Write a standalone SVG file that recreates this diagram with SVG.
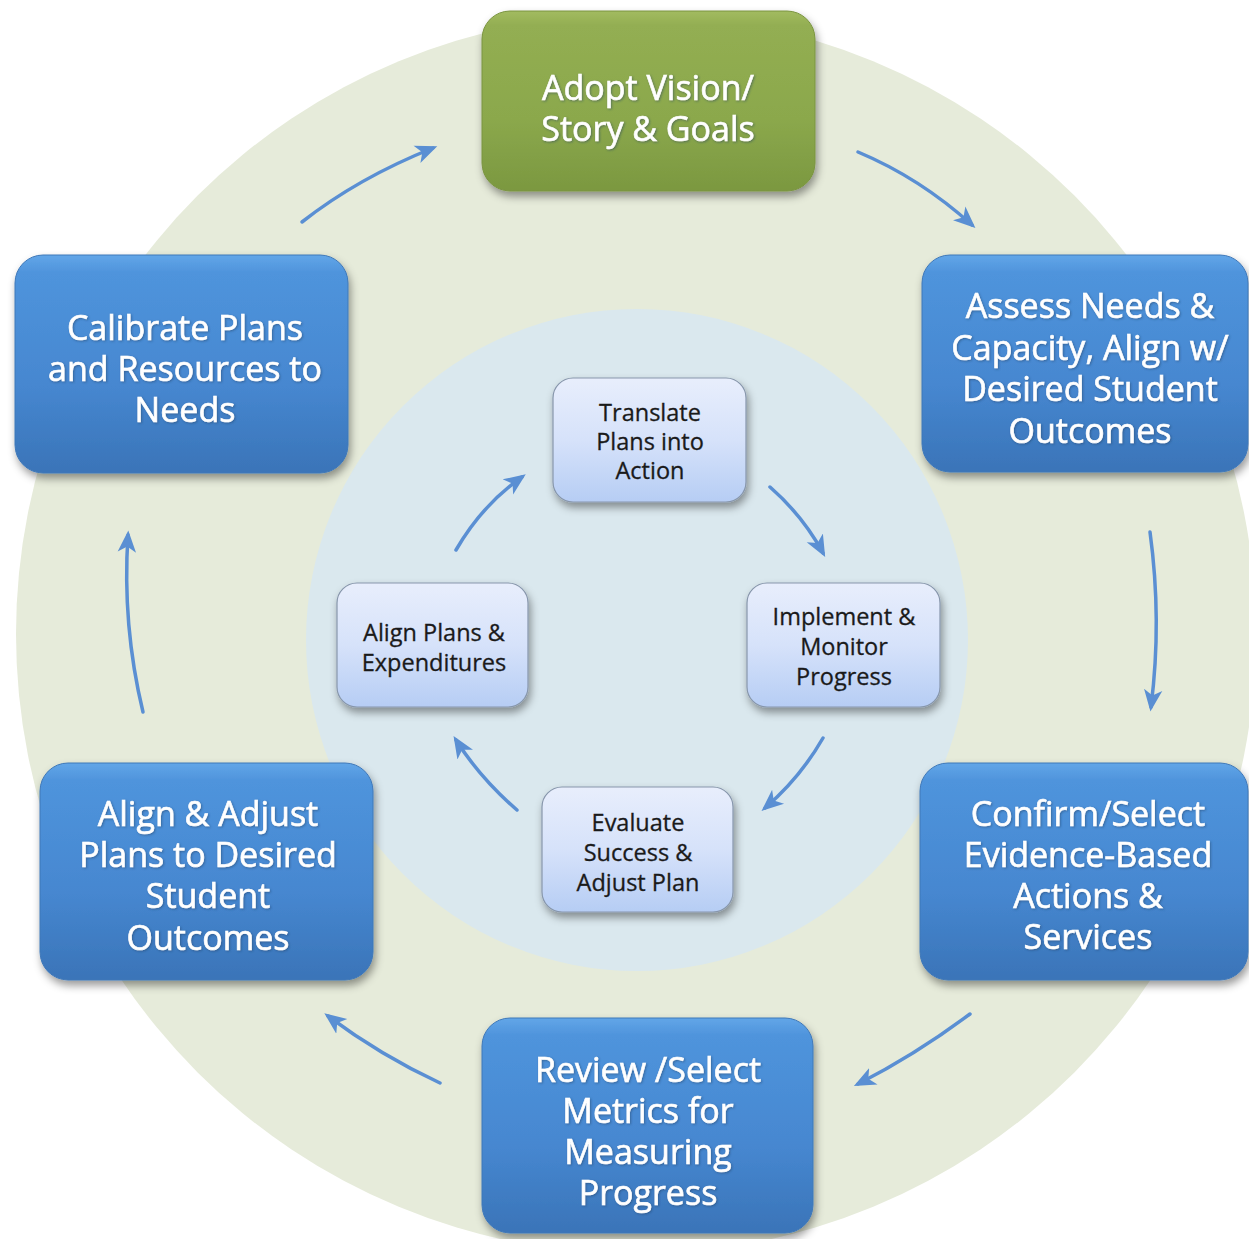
<svg xmlns="http://www.w3.org/2000/svg" width="1249" height="1239" viewBox="0 0 1249 1239">
  <defs>
    <linearGradient id="gBlue" x1="0" y1="0" x2="0" y2="1">
      <stop offset="0" stop-color="#62a6e8"/>
      <stop offset="0.08" stop-color="#4f94dc"/>
      <stop offset="0.6" stop-color="#4687d0"/>
      <stop offset="1" stop-color="#3a74b8"/>
    </linearGradient>
    <linearGradient id="gGreen" x1="0" y1="0" x2="0" y2="1">
      <stop offset="0" stop-color="#a2bb60"/>
      <stop offset="0.08" stop-color="#93ae52"/>
      <stop offset="0.6" stop-color="#8ba84c"/>
      <stop offset="1" stop-color="#7b9840"/>
    </linearGradient>
    <linearGradient id="gInner" x1="0" y1="0" x2="0" y2="1">
      <stop offset="0" stop-color="#e8eefc"/>
      <stop offset="0.5" stop-color="#d6e2fa"/>
      <stop offset="1" stop-color="#b6cdf4"/>
    </linearGradient>
    <filter id="shadow" x="-20%" y="-20%" width="140%" height="150%">
      <feDropShadow dx="2" dy="5" stdDeviation="4" flood-color="#000" flood-opacity="0.4"/>
    </filter>
    <filter id="tshadow" x="-10%" y="-20%" width="120%" height="150%">
      <feDropShadow dx="1" dy="1" stdDeviation="0.8" flood-color="#1a3a60" flood-opacity="0.5"/>
    </filter>
    <marker id="ah" viewBox="0 0 20 18" refX="15" refY="9" markerWidth="23" markerHeight="21" markerUnits="userSpaceOnUse" orient="auto">
      <path d="M0,1 L19,9 L0,17 L5,9 z" fill="#5a8fd3"/>
    </marker>
    <style>
      .outer { fill: url(#gBlue); stroke: #3f78b8; stroke-width: 1; filter: url(#shadow); }
      .green { fill: url(#gGreen); stroke: #7a9440; stroke-width: 1; filter: url(#shadow); }
      .inner { fill: url(#gInner); stroke: #8796ab; stroke-width: 1.2; filter: url(#shadow); }
      .ot { font-family: "Open Sans", "Liberation Sans", sans-serif; font-size: 34px; fill: #ffffff; stroke: #ffffff; stroke-width: 0.6; text-anchor: middle; filter: url(#tshadow); }
      .it { font-family: "Open Sans", "Liberation Sans", sans-serif; font-size: 23.5px; fill: #1a1a1a; stroke: #1a1a1a; stroke-width: 0.3; text-anchor: middle; }
      .conn path { fill: none; stroke: #5a8fd3; stroke-width: 3.5; stroke-linecap: round; marker-end: url(#ah); }
    </style>
  </defs>

  <rect width="1249" height="1239" fill="#ffffff"/>
  <circle cx="636" cy="634" r="620" fill="#e6ebda"/>
  <circle cx="637" cy="640" r="331" fill="#dae8ee"/>

  <g id="connectors" class="conn">
    <path d="M302,222 Q358,178 433,148"/>
    <path d="M858,152 Q920,178 972,225"/>
    <path d="M1150,532 Q1162,620 1151,707"/>
    <path d="M970,1014 Q915,1055 858,1084"/>
    <path d="M440,1083 Q380,1055 328,1016"/>
    <path d="M143,712 Q122,625 128,535"/>
    <path d="M456,550 Q482,505 522,477"/>
    <path d="M770,487 Q803,516 823,553"/>
    <path d="M823,738 Q800,778 765,808"/>
    <path d="M517,810 Q480,778 456,740"/>
  </g>

  <g id="node-adopt">
    <rect class="green" x="482" y="11" width="333" height="180" rx="28"/>
    <text class="ot"><tspan x="648" y="100">Adopt Vision/</tspan><tspan x="648" y="141">Story &amp; Goals</tspan></text>
  </g>

  <g id="node-assess">
    <rect class="outer" x="922" y="255" width="326" height="217" rx="28"/>
    <text class="ot"><tspan x="1090" y="318">Assess Needs &amp;</tspan><tspan x="1090" y="360">Capacity, Align w/</tspan><tspan x="1090" y="401">Desired Student</tspan><tspan x="1090" y="443">Outcomes</tspan></text>
  </g>

  <g id="node-confirm">
    <rect class="outer" x="920" y="763" width="328" height="217" rx="28"/>
    <text class="ot"><tspan x="1088" y="826">Confirm/Select</tspan><tspan x="1088" y="867">Evidence-Based</tspan><tspan x="1088" y="908">Actions  &amp;</tspan><tspan x="1088" y="949">Services</tspan></text>
  </g>

  <g id="node-review">
    <rect class="outer" x="482" y="1018" width="331" height="215" rx="28"/>
    <text class="ot"><tspan x="648" y="1082">Review /Select</tspan><tspan x="648" y="1123">Metrics for</tspan><tspan x="648" y="1164">Measuring</tspan><tspan x="648" y="1205">Progress</tspan></text>
  </g>

  <g id="node-align-adjust">
    <rect class="outer" x="40" y="763" width="333" height="217" rx="28"/>
    <text class="ot"><tspan x="208" y="826">Align &amp; Adjust</tspan><tspan x="208" y="867">Plans to Desired</tspan><tspan x="208" y="908">Student</tspan><tspan x="208" y="950">Outcomes</tspan></text>
  </g>

  <g id="node-calibrate">
    <rect class="outer" x="15" y="255" width="333" height="218" rx="28"/>
    <text class="ot"><tspan x="185" y="340">Calibrate Plans</tspan><tspan x="185" y="381">and Resources to</tspan><tspan x="185" y="422">Needs</tspan></text>
  </g>

  <g id="node-translate">
    <rect class="inner" x="553" y="378" width="193" height="124" rx="20"/>
    <text class="it"><tspan x="650" y="421">Translate</tspan><tspan x="650" y="450">Plans into</tspan><tspan x="650" y="479">Action</tspan></text>
  </g>

  <g id="node-implement">
    <rect class="inner" x="747" y="583" width="193" height="124" rx="20"/>
    <text class="it"><tspan x="844" y="625">Implement &amp;</tspan><tspan x="844" y="655">Monitor</tspan><tspan x="844" y="685">Progress</tspan></text>
  </g>

  <g id="node-evaluate">
    <rect class="inner" x="542" y="787" width="191" height="125" rx="20"/>
    <text class="it"><tspan x="638" y="831">Evaluate</tspan><tspan x="638" y="861">Success &amp;</tspan><tspan x="638" y="891">Adjust Plan</tspan></text>
  </g>

  <g id="node-align-plans">
    <rect class="inner" x="337" y="583" width="191" height="124" rx="20"/>
    <text class="it"><tspan x="434" y="641">Align Plans &amp;</tspan><tspan x="434" y="671">Expenditures</tspan></text>
  </g>
</svg>
